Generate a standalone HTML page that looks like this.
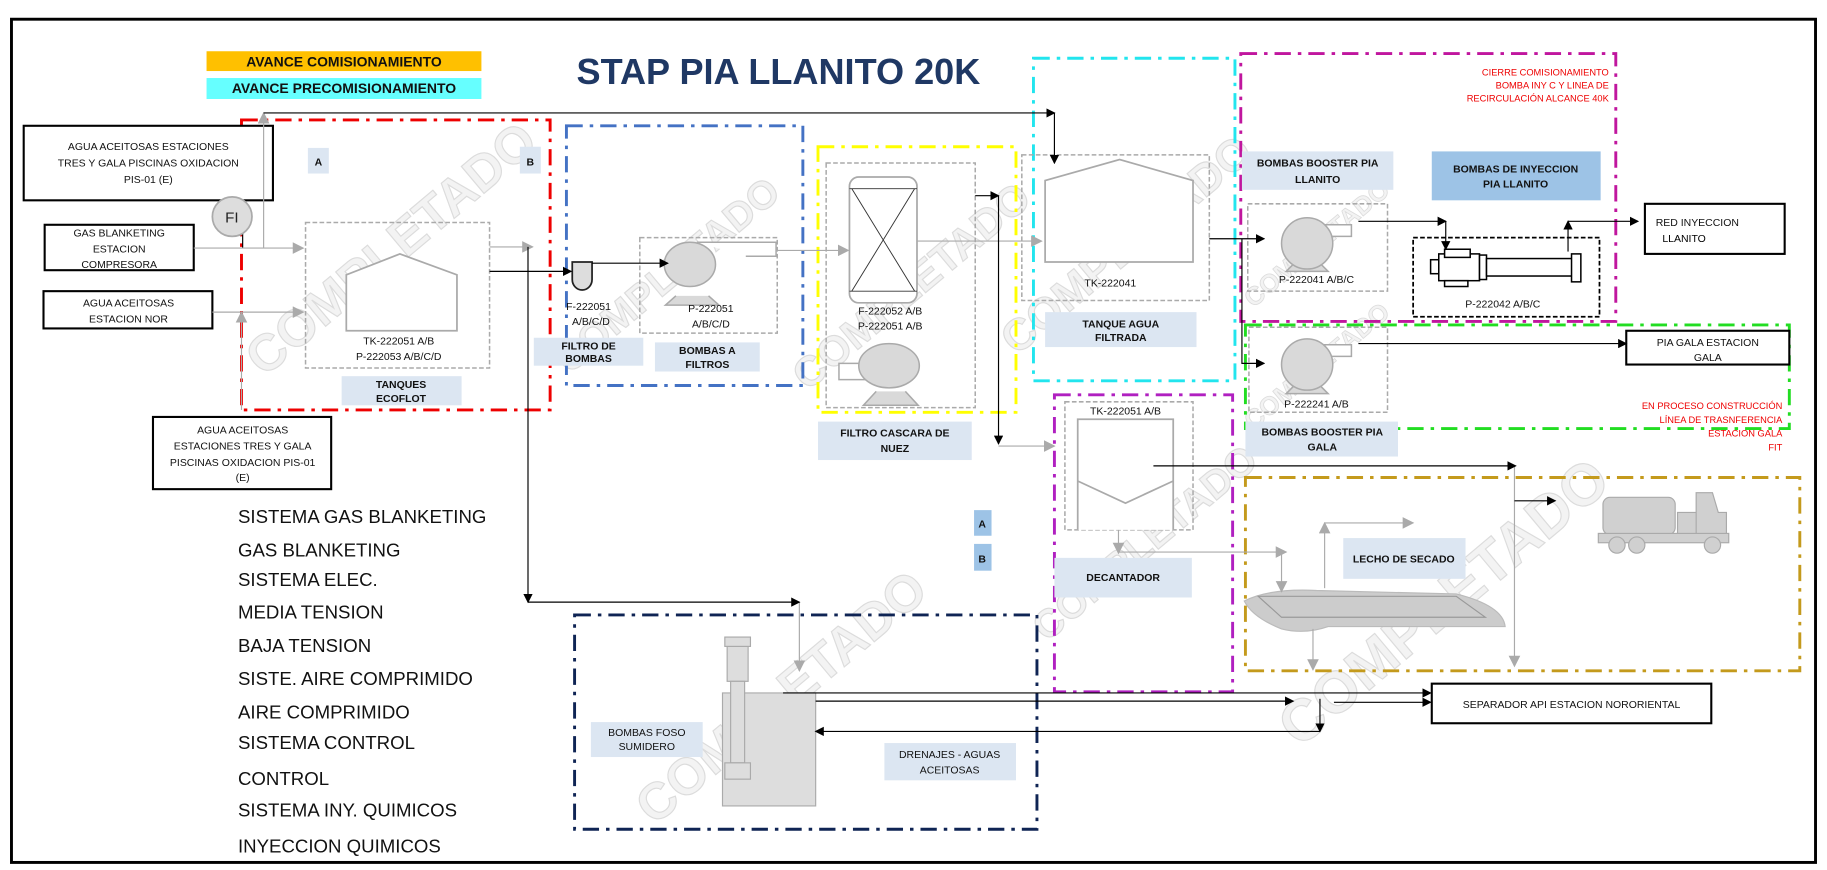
<!DOCTYPE html>
<html><head><meta charset="utf-8"><style>
html,body{margin:0;padding:0;background:#fff;}
svg{display:block;}
text{font-family:"Liberation Sans",sans-serif;}
.s{font-size:9px;fill:#111;text-anchor:middle;}
.b{font-size:9px;fill:#111;text-anchor:middle;font-weight:bold;}
.r{font-size:8px;fill:#e00;text-anchor:end;}
.L{font-size:16px;fill:#111;}
.wm{font-size:44px;font-weight:bold;fill:#f3f3f3;stroke:#dcdcdc;stroke-width:1;text-anchor:middle;}
.wms{font-size:22px;font-weight:bold;fill:#f3f3f3;stroke:#dcdcdc;stroke-width:0.7;text-anchor:middle;}
</style></head><body>
<svg width="1827" height="870" viewBox="0 0 1568 747" xmlns="http://www.w3.org/2000/svg">
<defs>
<marker id="ak" markerWidth="8" markerHeight="8" refX="7" refY="4" orient="auto" markerUnits="userSpaceOnUse"><path d="M0,0L8,4L0,8z" fill="#000"/></marker>
<marker id="ag" markerWidth="10" markerHeight="10" refX="9" refY="5" orient="auto" markerUnits="userSpaceOnUse"><path d="M0,0L10,5L0,10z" fill="#aaa"/></marker>
</defs>
<rect x="9.5" y="16.5" width="1549" height="724" fill="#fff" stroke="#000" stroke-width="2.5"/>

<rect x="177" y="44" width="236" height="17" fill="#ffc000"/>
<text x="295" y="57" class="b" style="font-size:12px">AVANCE COMISIONAMIENTO</text>
<rect x="177" y="67" width="236" height="18" fill="#66ffff"/>
<text x="295" y="80" class="b" style="font-size:12px">AVANCE PRECOMISIONAMIENTO</text>
<text x="668" y="72" style="font-size:31px;font-weight:bold;fill:#1f3864;text-anchor:middle">STAP PIA LLANITO 20K</text>

<g>
<text class="wm" transform="translate(345,225) rotate(-40)">COMPLETADO</text>
<text class="wm" style="font-size:34px" transform="translate(580,245) rotate(-40)">COMPLETADO</text>
<text class="wm" style="font-size:36px" transform="translate(790,255) rotate(-40)">COMPLETADO</text>
<text class="wm" style="font-size:38px" transform="translate(975,220) rotate(-40)">COMPLETADO</text>
<text class="wm" style="font-size:34px" transform="translate(990,475) rotate(-40)">COMPLETADO</text>
<text class="wm" transform="translate(680,610) rotate(-40)">COMPLETADO</text>
<text class="wm" style="font-size:50px" transform="translate(1250,530) rotate(-40)">COMPLETADO</text>
<text class="wms" transform="translate(1135,215) rotate(-40)">COMPLETADO</text>
<text class="wms" transform="translate(1135,320) rotate(-40)">COMPLETADO</text>
</g>

<g fill="none" stroke-width="2.5" stroke-dasharray="14,6,3,6">
<rect x="207" y="103" width="265" height="249" stroke="#e00"/>
<rect x="486" y="108" width="203" height="223" stroke="#4472c4"/>
<rect x="702" y="126" width="170" height="228" stroke="#ffff00"/>
<rect x="887" y="50" width="173" height="277" stroke="#22e5ee"/>
<rect x="1065" y="46" width="322" height="230" stroke="#c0169e"/>
<rect x="1069" y="279" width="467" height="89" stroke="#22dd22"/>
<rect x="905" y="339" width="153" height="255" stroke="#b020c0"/>
<rect x="1069" y="410" width="476" height="166" stroke="#c49a1c"/>
<rect x="493" y="528" width="397" height="184" stroke="#0f2454"/>
</g>

<g fill="#fff" stroke="#000" stroke-width="1.8">
<rect x="20" y="108" width="214" height="64"/>
<rect x="38" y="193" width="128" height="39"/>
<rect x="37" y="250" width="145" height="32"/>
<rect x="131" y="358" width="153" height="62"/>
<rect x="1412" y="175" width="120" height="43"/>
<rect x="1396" y="284" width="140" height="29"/>
<rect x="1229" y="587" width="240" height="34"/>
</g>
<text class="s" x="127" y="129">AGUA ACEITOSAS ESTACIONES</text>
<text class="s" x="127" y="143">TRES Y GALA PISCINAS OXIDACION</text>
<text class="s" x="127" y="157">PIS-01 (E)</text>
<text class="s" x="102" y="203">GAS BLANKETING</text>
<text class="s" x="102" y="217">ESTACION</text>
<text class="s" x="102" y="230">COMPRESORA</text>
<text class="s" x="110" y="263">AGUA ACEITOSAS</text>
<text class="s" x="110" y="277">ESTACION NOR</text>
<text class="s" x="208" y="372">AGUA ACEITOSAS</text>
<text class="s" x="208" y="386">ESTACIONES TRES Y GALA</text>
<text class="s" x="208" y="400">PISCINAS OXIDACION PIS-01</text>
<text class="s" x="208" y="413">(E)</text>
<text class="s" x="1457" y="194">RED INYECCION</text>
<text x="1427" y="208" style="font-size:9px">LLANITO</text>
<text class="s" x="1466" y="297">PIA GALA ESTACION</text>
<text class="s" x="1466" y="310">GALA</text>
<text class="s" x="1349" y="608">SEPARADOR API ESTACION NORORIENTAL</text>

<g fill="#dce6f2">
<rect x="264" y="127" width="18" height="22"/><rect x="446" y="126" width="18" height="23"/>
<rect x="293" y="323" width="103" height="25"/>
<rect x="458" y="290" width="94" height="24"/>
<rect x="562" y="294" width="90" height="25"/>
<rect x="702" y="362" width="132" height="33"/>
<rect x="836" y="438" width="15" height="22" fill="#9dc3e6"/><rect x="836" y="467" width="15" height="23" fill="#9dc3e6"/>
<rect x="897" y="268" width="130" height="30"/>
<rect x="1066" y="130" width="130" height="33"/>
<rect x="1229" y="130" width="145" height="42" fill="#9dc3e6"/>
<rect x="1069" y="362" width="131" height="30"/>
<rect x="905" y="479" width="118" height="34"/>
<rect x="1153" y="462" width="105" height="35"/>
<rect x="507" y="620" width="96" height="30"/>
<rect x="759" y="638" width="113" height="32"/>
</g>
<text class="b" x="273" y="142">A</text><text class="b" x="455" y="142">B</text>
<text class="b" x="344" y="333">TANQUES</text><text class="b" x="344" y="345">ECOFLOT</text>
<text class="b" x="505" y="300">FILTRO DE</text><text class="b" x="505" y="311">BOMBAS</text>
<text class="b" x="607" y="304">BOMBAS A</text><text class="b" x="607" y="316">FILTROS</text>
<text class="b" x="768" y="375">FILTRO CASCARA DE</text><text class="b" x="768" y="388">NUEZ</text>
<text class="b" x="843" y="453">A</text><text class="b" x="843" y="483">B</text>
<text class="b" x="962" y="281">TANQUE AGUA</text><text class="b" x="962" y="293">FILTRADA</text>
<text class="b" x="1131" y="143">BOMBAS BOOSTER PIA</text><text class="b" x="1131" y="157">LLANITO</text>
<text class="b" x="1301" y="148">BOMBAS DE INYECCION</text><text class="b" x="1301" y="161">PIA LLANITO</text>
<text class="b" x="1135" y="374">BOMBAS BOOSTER PIA</text><text class="b" x="1135" y="387">GALA</text>
<text class="b" x="964" y="499">DECANTADOR</text>
<text class="b" x="1205" y="483">LECHO DE SECADO</text>
<text class="s" x="555" y="632">BOMBAS FOSO</text><text class="s" x="555" y="644">SUMIDERO</text>
<text class="s" x="815" y="651">DRENAJES - AGUAS</text><text class="s" x="815" y="664">ACEITOSAS</text>

<text class="r" x="1381" y="65">CIERRE COMISIONAMIENTO</text>
<text class="r" x="1381" y="76">BOMBA INY C Y LINEA DE</text>
<text class="r" x="1381" y="87">RECIRCULACIÓN ALCANCE 40K</text>
<text class="r" x="1530" y="351">EN PROCESO CONSTRUCCIÓN</text>
<text class="r" x="1530" y="363">LÍNEA DE TRASNFERENCIA</text>
<text class="r" x="1530" y="375">ESTACION GALA</text>
<text class="r" x="1530" y="387">FIT</text>

<g fill="none" stroke="#aaa" stroke-width="1.3" stroke-dasharray="4,2">
<rect x="262" y="191" width="158" height="125"/>
<rect x="549" y="204" width="118" height="82"/>
<rect x="709" y="140" width="128" height="210"/>
<rect x="877" y="133" width="161" height="125"/>
<rect x="1071" y="175" width="120" height="75"/>
<rect x="1072" y="281" width="119" height="73"/>
<rect x="914" y="345" width="110" height="110"/>
</g>
<rect x="1213" y="204" width="160" height="68" fill="none" stroke="#000" stroke-width="1.5" stroke-dasharray="4,2"/>

<g fill="#fff" stroke="#aaa" stroke-width="1.5">
<path d="M297,284V236L343,218L392,236V284Z"/>
<path d="M897,225V155L961,137L1024,155V225Z"/>
<path d="M925,455V360H1007V455M925,413L966,432L1007,413" fill="#fff"/>
</g>
<text class="s" x="342" y="296">TK-222051 A/B</text>
<text class="s" x="342" y="309">P-222053 A/B/C/D</text>
<text class="s" x="953" y="246">TK-222041</text>
<text class="s" x="966" y="356">TK-222051 A/B</text>

<path d="M491,225H508V240A8.5,9 0 0 1 491,240Z" fill="#ddd" stroke="#222" stroke-width="1.5"/>
<text class="s" x="505" y="266">F-222051</text><text class="s" x="507" y="279">A/B/C/D</text>

<g fill="#d9d9d9" stroke="#aaa" stroke-width="1.3">
<path d="M598,208H666V220H640" fill="#fff"/><path d="M580,254L571,262H617L608,254"/><ellipse cx="592" cy="227" rx="22" ry="19"/>
<path d="M742,312H720V326H745" fill="#fff"/><path d="M752,336L741,348H788L777,336"/><ellipse cx="763" cy="314" rx="26" ry="19"/>
<path d="M1130,193H1160V203H1140" fill="#fff"/><path d="M1112,225L1104,233H1140L1132,225"/><ellipse cx="1122" cy="209" rx="22" ry="22"/>
<path d="M1130,296H1160V306H1140" fill="#fff"/><path d="M1112,330L1104,338H1140L1132,330"/><ellipse cx="1122" cy="313" rx="22" ry="22"/>
</g>
<text class="s" x="610" y="268">P-222051</text><text class="s" x="610" y="281">A/B/C/D</text>
<text class="s" x="764" y="270">F-222052 A/B</text><text class="s" x="764" y="283">P-222051 A/B</text>
<text class="s" x="1130" y="243">P-222041 A/B/C</text>
<text class="s" x="1130" y="350">P-222241 A/B</text>
<text class="s" x="1290" y="264">P-222042 A/B/C</text>
<rect x="729" y="152" width="58" height="108" rx="8" fill="#fff" stroke="#aaa" stroke-width="1.5"/>
<path d="M729,162H787M729,250H787M731,162L785,250M785,162L731,250" stroke="#333" stroke-width="0.8" fill="none"/>
<g fill="#fff" stroke="#000" stroke-width="1.3">
<rect x="1228" y="223" width="8" height="12"/><rect x="1235" y="218" width="35" height="23"/>
<rect x="1240" y="214" width="22" height="7"/><rect x="1240" y="241" width="20" height="5"/>
<rect x="1270" y="219" width="6" height="21"/><rect x="1276" y="222" width="74" height="15"/>
<rect x="1349" y="218" width="8" height="24"/>
</g>

<g fill="#ddd" stroke="#aaa" stroke-width="1">
<path d="M620,692V595H700V692Z"/>
<rect x="624" y="555" width="18" height="30"/><rect x="622" y="547" width="22" height="8"/>
<rect x="627" y="585" width="12" height="70"/><rect x="622" y="655" width="22" height="14"/>
</g>
<path d="M1068,516Q1090,505 1130,507L1250,510Q1290,520 1292,538H1140Q1120,545 1100,540Q1075,530 1068,516Z" fill="#ccc" stroke="#bbb"/>
<path d="M1080,512L1250,512L1275,530L1100,530Z" fill="none" stroke="#999"/>
<g fill="#d0d0d0" stroke="#aaa">
<rect x="1376" y="427" width="62" height="32" rx="6"/>
<rect x="1440" y="440" width="18" height="25"/>
<path d="M1456,440V423H1470L1475,440H1482V465H1456Z"/>
<rect x="1372" y="458" width="112" height="8"/>
<circle cx="1388" cy="468" r="7"/><circle cx="1405" cy="468" r="7"/><circle cx="1470" cy="468" r="7"/>
</g>

<line x1="208" y1="200" x2="208" y2="213" stroke="#000"/>
<circle cx="199" cy="186" r="17" fill="#ddd" stroke="#aaa" stroke-width="1.5"/>
<text x="193" y="191" style="font-size:13px;fill:#222">FI</text>

<g stroke="#aaa" stroke-width="1" fill="none" marker-end="url(#ag)">
<path d="M166,213H260"/><path d="M182,268H260"/>
<path d="M226,213V97"/><path d="M207,352V268"/>
<path d="M420,212H457"/><path d="M667,215H728"/>
<path d="M787,207H894"/><path d="M857,383H905"/>
<path d="M686,517V576"/>
<path d="M960,455V475"/><path d="M960,474H1104"/><path d="M1100,474V508"/>
<path d="M1127,540V575"/><path d="M1137,505V449"/><path d="M1137,449H1213"/>
<path d="M1300,400V572"/>
</g>
<g stroke="#000" stroke-width="1" fill="none" marker-end="url(#ak)">
<path d="M226,97H905"/><path d="M905,97V140"/>
<path d="M420,233H490"/>
<path d="M453,212V517"/><path d="M453,517H686"/>
<path d="M508,226H573"/>
<path d="M837,168H857"/><path d="M857,168V381"/>
<path d="M1038,205H1085"/><path d="M1066,205V312H1085"/>
<path d="M1166,190H1241"/><path d="M1241,190V214"/>
<path d="M1346,216V190"/><path d="M1346,190H1406"/>
<path d="M1166,295H1396"/>
<path d="M990,400H1301"/><path d="M1300,430H1335"/>
<path d="M672,595H1228"/>
<path d="M700,602H1110"/><path d="M1133,600V628"/><path d="M1145,603H1228"/>
<path d="M1133,628H700"/>
</g>

<g class="L">
<text class="L" x="204" y="449">SISTEMA GAS BLANKETING</text>
<text class="L" x="204" y="478">GAS BLANKETING</text>
<text class="L" x="204" y="503">SISTEMA ELEC.</text>
<text class="L" x="204" y="531">MEDIA TENSION</text>
<text class="L" x="204" y="560">BAJA TENSION</text>
<text class="L" x="204" y="588">SISTE. AIRE COMPRIMIDO</text>
<text class="L" x="204" y="617">AIRE COMPRIMIDO</text>
<text class="L" x="204" y="643">SISTEMA CONTROL</text>
<text class="L" x="204" y="674">CONTROL</text>
<text class="L" x="204" y="701">SISTEMA INY. QUIMICOS</text>
<text class="L" x="204" y="732">INYECCION QUIMICOS</text>
</g>
</svg>
</body></html>
